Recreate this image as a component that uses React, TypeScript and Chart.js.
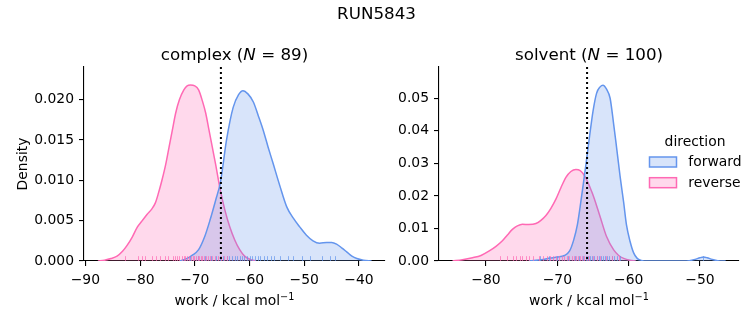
import React, { useEffect, useRef } from "react";
import { Chart, registerables } from "chart.js";

Chart.register(...registerables);

// ---------- data ----------
const FIG_TITLE = "RUN5843";
const LEGEND_TITLE = "direction";
const DIRECTIONS = ["forward", "reverse"];
const LINE_COLORS = ["#6495ED", "#FF69B4"];
const FILL_COLORS = ["rgba(100,149,237,0.25)", "rgba(255,105,180,0.25)"];
const RUG_COLORS = ["rgba(100,149,237,0.7)", "rgba(255,105,180,0.7)"];
const X_LABEL = "work / kcal mol";
const X_LABEL_SUP = "\u22121";
const Y_LABEL = "Density";

// complex phase
const complexName = "complex";
const complexN = 89;
const complexVline = -65.23;
const complexXTicks = [-90, -80, -70, -60, -50, -40];
const complexYTicks = [0, 0.005, 0.01, 0.015, 0.02];
const complexForwardX = [-72.7, -71.5, -70.5, -69.3, -68.2, -67.2, -66.2, -65.3, -64.2, -63.0, -62.0, -61.2, -60.3, -59.3, -58.4, -57.5, -56.6, -55.7, -54.5, -53.2, -52.0, -50.8, -49.6, -48.4, -47.2, -45.9, -45.0, -44.1, -43.1, -42.2, -41.3, -40.4, -39.2, -37.7];
const complexForwardY = [0, 0.0003, 0.0007, 0.0014, 0.003, 0.0051, 0.0075, 0.0098, 0.015, 0.019, 0.0206, 0.0211, 0.0207, 0.0197, 0.018, 0.0162, 0.0141, 0.0121, 0.0094, 0.0067, 0.0053, 0.0042, 0.0032, 0.0025, 0.0022, 0.0023, 0.0023, 0.0021, 0.0016, 0.0011, 0.0006, 0.0003, 0.0001, 0];
const complexReverseX = [-87.7, -86.5, -85.3, -84.2, -83.2, -82.4, -81.4, -80.5, -79.6, -78.7, -77.9, -77.2, -76.6, -76.0, -75.3, -74.7, -74.1, -73.5, -72.8, -72.0, -71.4, -70.8, -70.0, -69.3, -68.6, -68.0, -67.4, -66.8, -66.2, -65.4, -64.5, -63.6, -62.7, -61.8, -60.9, -59.9, -58.8];
const complexReverseY = [0, 0.0001, 0.0003, 0.0006, 0.0012, 0.0019, 0.003, 0.0042, 0.005, 0.0058, 0.0064, 0.0072, 0.0085, 0.01, 0.012, 0.0141, 0.0162, 0.0183, 0.02, 0.0212, 0.0217, 0.0218, 0.0217, 0.0212, 0.0198, 0.0183, 0.0162, 0.0141, 0.012, 0.009, 0.0063, 0.0042, 0.0026, 0.0014, 0.0006, 0.0002, 0];
const complexForwardRug = [-70.9, -69.5, -68.2, -67.0, -66.2, -65.4, -64.8, -64.2, -63.7, -63.2, -62.7, -62.2, -61.8, -61.4, -61.0, -60.5, -60.0, -59.5, -59.0, -58.5, -58.0, -57.4, -56.8, -56.0, -55.5, -54.4, -53.0, -52.1, -50.5, -49.0, -46.8, -45.3, -44.4];
const complexReverseRug = [-82.8, -80.3, -79.7, -79.1, -77.9, -77.0, -76.4, -75.5, -74.9, -74.0, -73.6, -73.2, -72.8, -72.4, -72.0, -71.7, -71.4, -71.0, -70.7, -70.4, -70.1, -69.8, -69.5, -69.2, -68.9, -68.6, -68.3, -68.0, -67.6, -67.2, -66.8, -66.3, -65.8, -65.2, -64.6, -64.2];

// solvent phase
const solventName = "solvent";
const solventN = 100;
const solventVline = -65.83;
const solventXTicks = [-80, -70, -60, -50];
const solventYTicks = [0, 0.01, 0.02, 0.03, 0.04, 0.05];
const solventForwardX = [-74.0, -73.0, -72.0, -71.0, -70.0, -69.0, -68.3, -67.7, -67.2, -66.8, -66.4, -66.0, -65.5, -65.0, -64.5, -64.0, -63.6, -63.1, -62.6, -62.1, -61.7, -61.2, -60.7, -60.3, -59.8, -59.3, -58.8, -58.2, -57.5, -55.0, -52.5, -51.5, -50.7, -50.0, -49.5, -49.0, -48.3, -47.5, -46.4];
const solventForwardY = [0, 0.0002, 0.0005, 0.0009, 0.0012, 0.0017, 0.003, 0.0065, 0.011, 0.0167, 0.023, 0.0295, 0.038, 0.046, 0.0515, 0.0535, 0.054, 0.0528, 0.05, 0.042, 0.035, 0.026, 0.018, 0.011, 0.006, 0.0025, 0.0008, 0.0002, 0, 0, 0, 0.0001, 0.0005, 0.001, 0.0012, 0.001, 0.0005, 0.0001, 0];
const solventReverseX = [-84.7, -83.3, -81.9, -80.7, -79.6, -78.6, -77.7, -77.0, -76.3, -75.6, -74.9, -74.0, -73.0, -72.3, -71.6, -70.9, -70.2, -69.5, -68.8, -68.1, -67.4, -66.8, -66.0, -65.4, -64.9, -64.0, -63.1, -62.1, -61.4, -60.7, -59.8, -59.0];
const solventReverseY = [0, 0.0004, 0.001, 0.0017, 0.003, 0.0045, 0.0062, 0.008, 0.0097, 0.0108, 0.0113, 0.0112, 0.0115, 0.0125, 0.014, 0.0162, 0.019, 0.0225, 0.0257, 0.0275, 0.0281, 0.0278, 0.0255, 0.0225, 0.0197, 0.0136, 0.0075, 0.0034, 0.0017, 0.0008, 0.0002, 0];
const solventForwardRug = [-72.4, -71.2, -70.0, -68.5, -67.5, -66.9, -66.4, -66.0, -65.7, -65.4, -65.1, -64.8, -64.5, -64.2, -63.9, -63.6, -63.3, -63.0, -62.7, -62.4, -62.0, -61.6, -61.2, -49.6];
const solventReverseRug = [-78.0, -77.0, -76.2, -75.8, -75.3, -74.9, -74.4, -74.0, -73.4, -72.6, -72.0, -71.5, -71.0, -70.6, -70.2, -69.8, -69.4, -69.0, -68.6, -68.3, -68.0, -67.7, -67.4, -67.1, -66.8, -66.5, -66.2, -65.9, -65.5, -65.0, -64.5, -64.0, -63.2, -62.4, -61.4];

// ---------- layout ----------
const W = 753;
const H = 325;
const FONT = '"DejaVu Sans", "Liberation Sans", sans-serif';
const f = (size: number, style = "") => `${style} ${size}px ${FONT}`.trim();

type Sub = {
  name: string;
  n: number;
  vline: number;
  xTicks: number[];
  yTicks: number[];
  yDec: number;
  xMin: number;
  xMax: number;
  yMax: number;
  fX: number[];
  fY: number[];
  rX: number[];
  rY: number[];
  fRug: number[];
  rRug: number[];
  padLeft: number;
  padRight: number;
  yAxisWidth: number;
  yLabel: boolean;
  legend: boolean;
  suptitle: boolean;
};

function drawRuns(ctx: CanvasRenderingContext2D, runs: { text: string; font: string; rise?: number }[], cx: number, base: number) {
  let total = 0;
  runs.forEach((r) => {
    ctx.font = r.font;
    total += ctx.measureText(r.text).width;
  });
  let x = cx - total / 2;
  ctx.textAlign = "left";
  ctx.textBaseline = "alphabetic";
  runs.forEach((r) => {
    ctx.font = r.font;
    ctx.fillText(r.text, x, base - (r.rise || 0));
    x += ctx.measureText(r.text).width;
  });
}

const fmtX = (v: number) => (v < 0 ? "\u2212" + Math.abs(v) : String(v));

function makeChart(canvas: HTMLCanvasElement, s: Sub) {
  const overlay = {
    id: "overlay_" + s.name,
    afterDatasetsDraw(chart: any) {
      const { ctx, chartArea } = chart;
      const xs = chart.scales.x;
      ctx.save();
      const h = (chartArea.bottom - chartArea.top) * 0.025;
      [s.fRug, s.rRug].forEach((rug, k) => {
        ctx.strokeStyle = RUG_COLORS[k];
        ctx.lineWidth = 1;
        rug.forEach((v) => {
          const px = Math.round(xs.getPixelForValue(v)) + 0.5;
          ctx.beginPath();
          ctx.moveTo(px, chartArea.bottom);
          ctx.lineTo(px, chartArea.bottom - h);
          ctx.stroke();
        });
      });
      const vx = xs.getPixelForValue(s.vline);
      ctx.setLineDash([2, 3]);
      ctx.strokeStyle = "#000";
      ctx.lineWidth = 2;
      ctx.beginPath();
      ctx.moveTo(vx, chartArea.top);
      ctx.lineTo(vx, chartArea.bottom);
      ctx.stroke();
      ctx.restore();
    },
    afterDraw(chart: any) {
      const { ctx, chartArea } = chart;
      const cx = (chartArea.left + chartArea.right) / 2;
      ctx.save();
      ctx.fillStyle = "#000";
      drawRuns(ctx, [
        { text: `${s.name} (`, font: f(16.7) },
        { text: "N", font: f(16.7, "italic") },
        { text: ` = ${s.n})`, font: f(16.7) },
      ], cx, 59.5);
      drawRuns(ctx, [
        { text: X_LABEL, font: f(13.9) },
        { text: X_LABEL_SUP, font: f(9.7), rise: 5 },
      ], cx, 305);
      if (s.yLabel) {
        ctx.save();
        ctx.translate(26.5, (chartArea.top + chartArea.bottom) / 2);
        ctx.rotate(-Math.PI / 2);
        ctx.font = f(13.9);
        ctx.textAlign = "center";
        ctx.textBaseline = "alphabetic";
        ctx.fillText(Y_LABEL, 0, 0);
        ctx.restore();
      }
      if (s.suptitle) {
        ctx.font = f(16.7);
        ctx.textAlign = "center";
        ctx.textBaseline = "alphabetic";
        ctx.fillText(FIG_TITLE, W / 2, 19);
      }
      if (s.legend) {
        ctx.font = f(13.9);
        ctx.textAlign = "center";
        ctx.textBaseline = "alphabetic";
        ctx.fillText(LEGEND_TITLE, 695, 145.5);
        DIRECTIONS.forEach((d, i) => {
          const y = 157 + i * 20.7;
          ctx.fillStyle = "#fff";
          ctx.fillRect(649.5, y, 27, 10);
          ctx.fillStyle = FILL_COLORS[i];
          ctx.fillRect(649.5, y, 27, 10);
          ctx.strokeStyle = LINE_COLORS[i];
          ctx.lineWidth = 1.5;
          ctx.strokeRect(649.5, y, 27, 10);
          ctx.fillStyle = "#000";
          ctx.textAlign = "left";
          ctx.fillText(d, 688.3, 166 + i * 20.7);
        });
      }
      ctx.restore();
    },
  };

  const series = [
    { x: s.fX, y: s.fY },
    { x: s.rX, y: s.rY },
  ];

  return new Chart(canvas, {
    type: "line",
    data: {
      datasets: series.map((sr, i) => ({
        label: DIRECTIONS[i],
        data: sr.x.map((x, j) => ({ x, y: sr.y[j] })),
        borderColor: LINE_COLORS[i],
        backgroundColor: FILL_COLORS[i],
        borderWidth: 1.5,
        fill: "origin",
        pointRadius: 0,
        cubicInterpolationMode: "monotone",
      })),
    },
    options: {
      animation: false,
      responsive: false,
      devicePixelRatio: 1,
      events: [],
      layout: { padding: { top: 67, left: s.padLeft, right: s.padRight, bottom: 0 } },
      plugins: { legend: { display: false }, tooltip: { enabled: false }, title: { display: false } },
      scales: {
        x: {
          type: "linear",
          min: s.xMin,
          max: s.xMax,
          afterBuildTicks: (sc: any) => {
            sc.ticks = s.xTicks.map((v) => ({ value: v }));
          },
          afterFit: (sc: any) => {
            sc.height = 64;
          },
          grid: { display: true, drawOnChartArea: false, drawTicks: true, tickLength: 5, color: "#000", lineWidth: 1.1 },
          border: { display: true, color: "#000", width: 1.1 },
          ticks: {
            color: "#000",
            font: { family: FONT, size: 13.9 },
            padding: 6,
            maxRotation: 0,
            autoSkip: false,
            callback: (v: any) => fmtX(Number(v)),
          },
        },
        y: {
          type: "linear",
          min: 0,
          max: s.yMax,
          afterBuildTicks: (sc: any) => {
            sc.ticks = s.yTicks.map((v) => ({ value: v }));
          },
          afterFit: (sc: any) => {
            sc.width = s.yAxisWidth;
          },
          grid: { display: true, drawOnChartArea: false, drawTicks: true, tickLength: 5, color: "#000", lineWidth: 1.1 },
          border: { display: true, color: "#000", width: 1.1 },
          ticks: {
            color: "#000",
            font: { family: FONT, size: 13.9 },
            padding: 5,
            autoSkip: false,
            callback: (v: any) => Number(v).toFixed(s.yDec),
          },
        },
      },
    },
    plugins: [overlay],
  } as any);
}

const complexSub: Sub = {
  name: complexName,
  n: complexN,
  vline: complexVline,
  xTicks: complexXTicks,
  yTicks: complexYTicks,
  yDec: 3,
  xMin: -90.24,
  xMax: -35.25,
  yMax: 0.02403,
  fX: complexForwardX,
  fY: complexForwardY,
  rX: complexReverseX,
  rY: complexReverseY,
  fRug: complexForwardRug,
  rRug: complexReverseRug,
  padLeft: 0,
  padRight: W - 385,
  yAxisWidth: 84,
  yLabel: true,
  legend: false,
  suptitle: true,
};

const solventSub: Sub = {
  name: solventName,
  n: solventN,
  vline: solventVline,
  xTicks: solventXTicks,
  yTicks: solventYTicks,
  yDec: 2,
  xMin: -86.59,
  xMax: -44.53,
  yMax: 0.0596,
  fX: solventForwardX,
  fY: solventForwardY,
  rX: solventReverseX,
  rY: solventReverseY,
  fRug: solventForwardRug,
  rRug: solventReverseRug,
  padLeft: 390,
  padRight: W - 739,
  yAxisWidth: 49,
  yLabel: false,
  legend: true,
  suptitle: false,
};

export default function App() {
  const leftRef = useRef<HTMLCanvasElement>(null);
  const rightRef = useRef<HTMLCanvasElement>(null);
  useEffect(() => {
    const a = makeChart(leftRef.current!, complexSub);
    const b = makeChart(rightRef.current!, solventSub);
    return () => {
      a.destroy();
      b.destroy();
    };
  }, []);
  const cs: React.CSSProperties = { position: "absolute", left: 0, top: 0, width: W, height: H };
  return (
    <div style={{ position: "absolute", left: 0, top: 0, width: W, height: H, background: "#fff" }}>
      <canvas ref={leftRef} width={W} height={H} style={cs} />
      <canvas ref={rightRef} width={W} height={H} style={cs} />
    </div>
  );
}
